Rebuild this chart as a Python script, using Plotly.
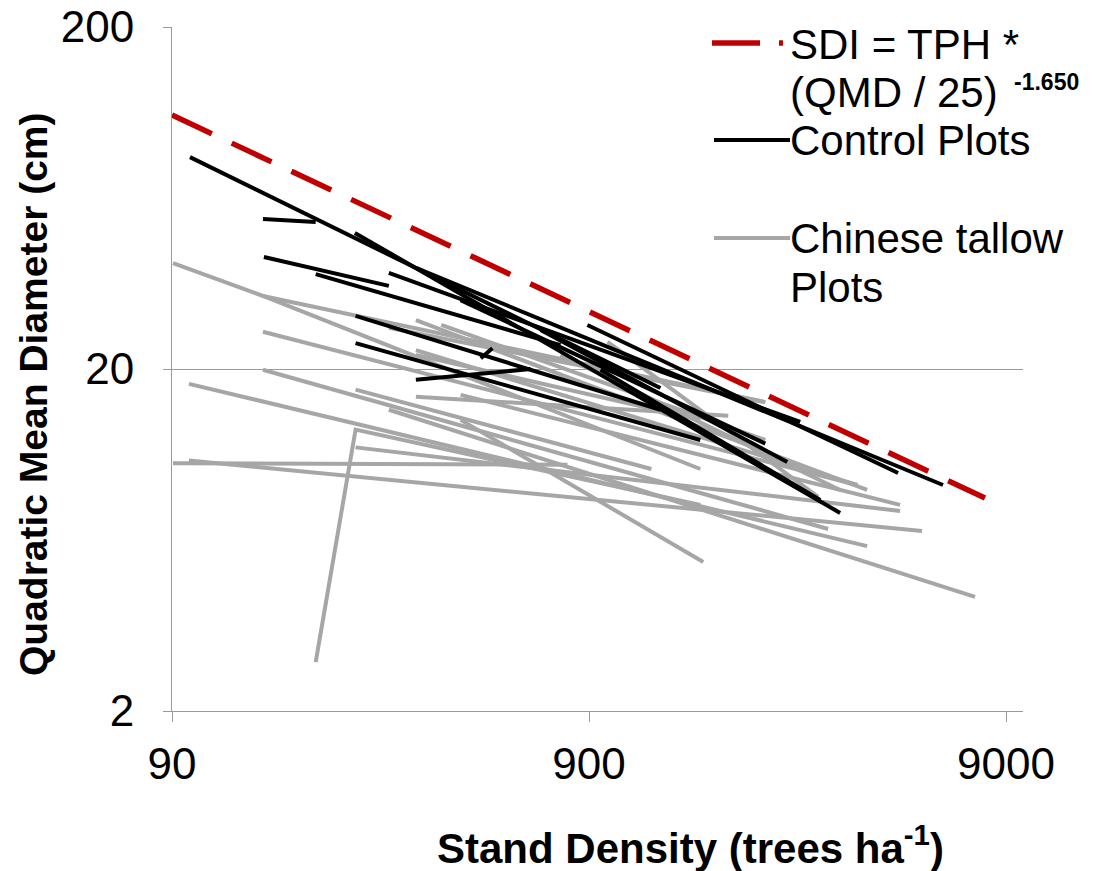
import math
import plotly.graph_objects as go

# ---------------- data (trees/ha, QMD cm) ----------------
sdi_tph = [90, 8014]
sdi_qmd = [110.6, 8.39]

control_tph = [
    [99.4, 1335], [148.7, 199], [149.5, 298], [199, 769], [247, 3601],
    [298, 2889], [346, 6356], [892, 4960], [248, 1335], [248, 1664],
    [346, 652], [495, 528], [443, 2382], [689, 2689], [959, 3226],
]
control_qmd = [
    [83.3, 17.6], [54.9, 53.8], [42.5, 35.0], [37.9, 23.5], [50.0, 7.59],
    [38.2, 14.0], [39.5, 9.16], [26.9, 9.93], [28.6, 15.2], [23.8, 12.4],
    [18.6, 20.0], [21.5, 23.0], [31.8, 12.1], [26.0, 10.7], [19.9, 8.28],
]

tallow_tph = [
    [90.5, 148.7, 2382], [148.7, 1664], [148.7, 3957], [148.7, 3371],
    [98.8, 4181], [90.5, 799], [98.8, 5661], [199, 248, 1664],
    [248, 5016], [346, 1942], [443, 1692], [997, 3190], [298, 7585],
    [346, 4181], [298, 2382], [346, 1664], [443, 5016], [398, 2382],
    [769, 3601], [248, 1270], [346, 3957],
]
tallow_qmd = [
    [40.8, 32.7, 16.0], [32.7, 10.2], [25.7, 9.16], [19.9, 6.81],
    [18.1, 6.07], [10.6, 10.5], [10.8, 6.72], [2.78, 13.3, 8.01],
    [11.8, 7.69], [16.6, 14.6], [14.2, 5.45], [24.0, 8.45], [15.2, 4.31],
    [27.8, 8.86], [26.4, 16.0], [22.0, 14.2], [16.8, 8.01], [26.9, 12.4],
    [22.0, 8.86], [17.4, 10.2], [22.7, 9.16],
]

x_ticks = [90, 900, 9000]
y_ticks = [2, 20, 200]

# ---------------- layout geometry ----------------
W, H = 1099, 871
L, R, T, B = 172, 1023, 27, 711


def px(x):
    return (x - L) / (R - L)


def py(y):
    return (B - y) / (B - T)


def joined(groups):
    out = []
    for g in groups:
        out.extend(g)
        out.append(None)
    return out


FONT = "Liberation Sans, Arial, sans-serif"
GRAY = "#A6A6A6"
AXIS = "#9A9A9A"

fig = go.Figure()
fig.add_trace(go.Scatter(x=joined(tallow_tph), y=joined(tallow_qmd), mode="lines",
                         line=dict(color=GRAY, width=4), showlegend=False, hoverinfo="skip"))
fig.add_trace(go.Scatter(x=joined(control_tph), y=joined(control_qmd), mode="lines",
                         line=dict(color="black", width=4), showlegend=False, hoverinfo="skip"))
fig.add_trace(go.Scatter(x=sdi_tph, y=sdi_qmd, mode="lines",
                         line=dict(color="#C00000", width=5.5, dash="44px,22px"),
                         showlegend=False, hoverinfo="skip"))

fig.update_xaxes(type="log", range=[math.log10(90), 3.995], tickvals=x_ticks,
                 ticktext=[str(v) for v in x_ticks], showgrid=False, showline=True,
                 linecolor=AXIS, linewidth=1, ticks="outside", ticklen=10, tickcolor=AXIS,
                 tickfont=dict(family=FONT, size=44, color="black"), ticklabelstandoff=4,
                 zeroline=False, automargin=False)
fig.update_yaxes(type="log", range=[math.log10(2), math.log10(200)], tickvals=y_ticks,
                 ticktext=[str(v) for v in y_ticks], showgrid=True, gridcolor=AXIS,
                 gridwidth=1, showline=True, linecolor=AXIS, linewidth=1, ticks="outside",
                 ticklen=8, tickcolor=AXIS, tickfont=dict(family=FONT, size=44, color="black"),
                 ticklabelstandoff=20, zeroline=False, automargin=False)


def note(x, y, text, size=42, bold=False, anchor="left", angle=0):
    return dict(x=px(x), y=py(y), xref="paper", yref="paper", text=text, showarrow=False,
                textangle=angle, xanchor=anchor, yanchor="middle",
                font=dict(family=FONT, size=size, color="black",
                          weight="bold" if bold else "normal"))


annotations = [
    note(690, 845, "Stand Density (trees ha<sup>-1</sup>)", 42, True, "center"),
    note(34, 394, "Quadratic Mean Diameter (cm)", 39, True, "center", -90),
    note(788, 45, "SDI = TPH *"),
    note(788, 92, "(QMD / 25)"),
    note(1012, 82, "-1.650", 23, True),
    note(788, 140, "Control Plots"),
    note(788, 238, "Chinese tallow"),
    note(788, 287, "Plots"),
]

shapes = [
    dict(type="line", xref="paper", yref="paper", x0=px(712), x1=px(760), y0=py(43), y1=py(43),
         line=dict(color="#C00000", width=5.5)),
    dict(type="line", xref="paper", yref="paper", x0=px(779), x1=px(783), y0=py(43), y1=py(43),
         line=dict(color="#C00000", width=5.5)),
    dict(type="line", xref="paper", yref="paper", x0=px(714), x1=px(790), y0=py(140), y1=py(140),
         line=dict(color="black", width=4)),
    dict(type="line", xref="paper", yref="paper", x0=px(714), x1=px(790), y0=py(238), y1=py(238),
         line=dict(color=GRAY, width=4)),
]

fig.update_layout(width=W, height=H, margin=dict(l=L, r=W - R, t=T, b=H - B, autoexpand=False),
                  paper_bgcolor="white", plot_bgcolor="white", showlegend=False,
                  annotations=annotations, shapes=shapes)

fig.write_html("out.html")
